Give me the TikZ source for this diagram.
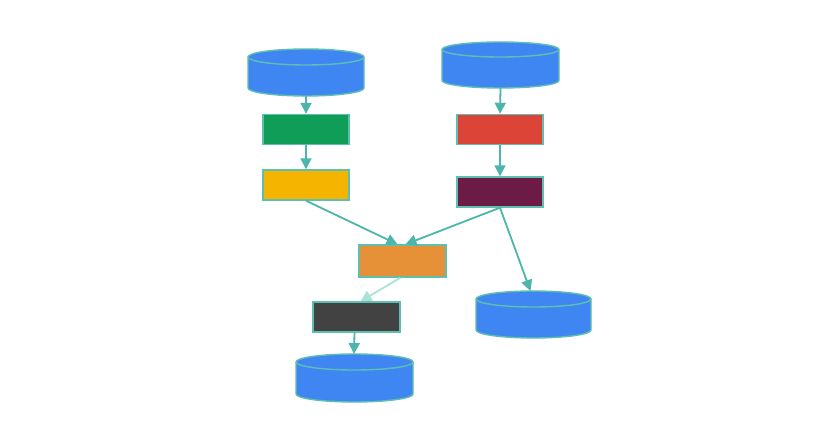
\documentclass[tikz,border=0pt]{standalone}
\usetikzlibrary{arrows.meta}
\definecolor{teal}{HTML}{4DB6AC}
\definecolor{lteal}{HTML}{A8E4D6}
\definecolor{edge}{HTML}{5CBFB0}
\definecolor{cblue}{HTML}{4086F2}
\definecolor{cgreen}{HTML}{0F9D58}
\definecolor{cyellow}{HTML}{F4B400}
\definecolor{cred}{HTML}{DB4437}
\definecolor{cmaroon}{HTML}{6C1A46}
\definecolor{corange}{HTML}{E69138}
\definecolor{cdark}{HTML}{424242}
\tikzset{
  box/.style={draw=edge, line width=1.4pt, minimum width=86pt, minimum height=30pt, inner sep=0pt},
  cylbox/.style={inner sep=0pt, outer sep=0pt},
  cylfill/.style={fill=cblue, draw=edge, line width=1.4pt},
  link/.style={draw=teal, line width=1.8pt, -{Triangle[length=11pt,width=11pt]}},
  lightlink/.style={link, draw=lteal},
}
\newcommand{\dbcyl}[6]{% name, cx, ytop, ybot, rx, ry
  \node[cylbox, minimum width=2*#5 pt, minimum height={(#4-#3)*1pt}] (#1) at (#2, {(#3+#4)/2}) {};
  \path[cylfill] (#2-#5, #4-#6) arc[start angle=180, end angle=360, x radius=#5pt, y radius=#6pt]
     -- (#2+#5, #3+#6) arc[start angle=0, end angle=180, x radius=#5pt, y radius=#6pt] -- cycle;
  \draw[draw=edge, line width=1.4pt] (#2-#5, #3+#6) arc[start angle=180, end angle=360, x radius=#5pt, y radius=#6pt];
}
\begin{document}
\begin{tikzpicture}[x=1pt, y=-1pt]
\useasboundingbox[fill=white] (0,0) rectangle (840,443);
\dbcyl{cylA}{306}{49}{96}{58}{8}
\dbcyl{cylB}{500.5}{42}{88}{58.5}{7.5}
\dbcyl{cylC}{533.5}{291}{338}{57.5}{8}
\dbcyl{cylD}{354.5}{354}{402}{58.5}{8}
\node[box, fill=cgreen] (green) at (306,129.5) {};
\node[box, fill=cyellow] (yellow) at (306,185) {};
\node[box, fill=cred] (red) at (500,129.5) {};
\node[box, fill=cmaroon] (maroon) at (500,192) {};
\node[box, fill=corange, minimum width=87pt, minimum height=32pt] (orange) at (402.5,261) {};
\node[box, fill=cdark, minimum width=87pt] (dark) at (356.5,317) {};
\draw[link] (cylA.south) -- (green.north);
\draw[link] (green.south) -- (yellow.north);
\draw[link] (cylB.south) -- (red.north);
\draw[link] (red.south) -- (maroon.north);
\draw[link] (yellow.south) -- ([xshift=-5pt]orange.north);
\draw[link] (maroon.south) -- ([xshift=3pt]orange.north);
\draw[link] (maroon.south) -- ([xshift=-3pt]cylC.north);
\draw[lightlink] ([xshift=-2pt]orange.south) -- ([xshift=4pt]dark.north);
\draw[link] ([xshift=-2pt]dark.south) -- ([xshift=-0.5pt]cylD.north);
\end{tikzpicture}
\end{document}
